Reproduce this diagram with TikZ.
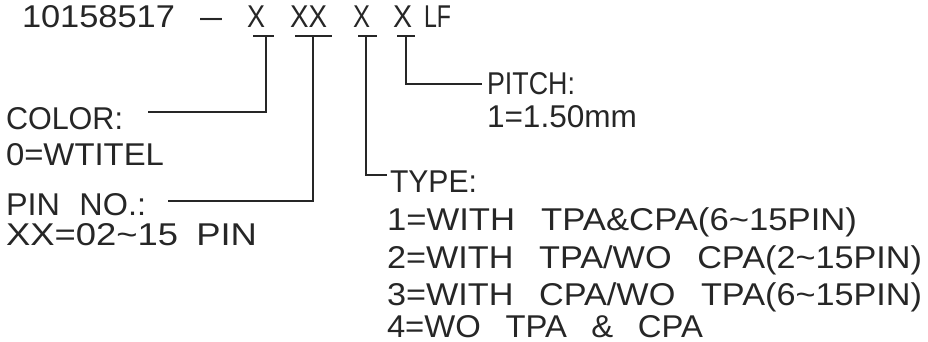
\documentclass[tikz,border=0pt]{standalone}
\usepackage{fontspec}
\setmainfont{Liberation Sans}
\usepackage{graphicx}
\newcommand{\fitw}[2]{\resizebox{#1pt}{\height}{#2}}
\newcommand{\gp}{\hspace{0.75em}}
\begin{document}
\begin{tikzpicture}[x=1pt,y=-1pt,
  txt/.style={anchor=base west, inner sep=0pt, outer sep=0pt, text=black!85, font=\fontsize{31.5}{31.5}\selectfont},
  lead/.style={line width=2.2pt, draw=black!85}]
\useasboundingbox (0,0) rectangle (928,342);
% part number
\node[txt] (num)  at (22,28)  {\fitw{153}{10158517}};
\node[txt] (dash) at (200,28) {\fitw{22}{–}};
\node[txt] (x1)   at (247,28) {\fitw{18}{X}};
\node[txt] (x2)   at (290,28) {\fitw{37}{XX}};
\node[txt] (x3)   at (353,28) {\fitw{17}{X}};
\node[txt] (x4)   at (393,28) {\fitw{19}{X}};
\node[txt] (lf)   at (424,28) {\fitw{27}{LF}};
% left labels
\node[txt] (color)  at (6,130) {\fitw{117}{COLOR:}};
\node[txt] (colorv) at (6,165) {\fitw{158}{0=WTITEL}};
\node[txt] (pin)    at (6,215) {\fitw{140}{PIN\hspace{0.6em}NO.:}};
\node[txt] (pinv)   at (6,245) {\fitw{251}{XX=02\textasciitilde 15\hspace{0.5em}PIN}};
% right labels
\node[txt] (pitch)  at (487,95)  {\fitw{88}{PITCH:}};
\node[txt] (pitchv) at (487,128) {\fitw{150}{1=1.50mm}};
\node[txt] (type)   at (390,192) {\fitw{87}{TYPE:}};
\node[txt] (t1) at (387,230) {\fitw{470}{1=WITH\gp TPA\&CPA(6\textasciitilde 15PIN)}};
\node[txt] (t2) at (387,268) {\fitw{535}{2=WITH\gp TPA/WO\gp CPA(2\textasciitilde 15PIN)}};
\node[txt] (t3) at (387,305) {\fitw{535}{3=WITH\gp CPA/WO\gp TPA(6\textasciitilde 15PIN)}};
\node[txt] (t4) at (387,337) {\fitw{316}{4=WO\gp TPA\gp\&\gp CPA}};
% connector points
\coordinate (u1a) at (253,36); \coordinate (u1b) at (274,36); \coordinate (j1) at (266,36); \coordinate (e1) at (148,112);
\coordinate (u2a) at (295,36); \coordinate (u2b) at (332,36); \coordinate (j2) at (313,36); \coordinate (e2) at (168,201);
\coordinate (u3a) at (358,36); \coordinate (u3b) at (377,36); \coordinate (j3) at (366,36); \coordinate (e3) at (387,175);
\coordinate (u4a) at (397,36); \coordinate (u4b) at (415,36); \coordinate (j4) at (406,36); \coordinate (e4) at (482,84);
% connectors
\draw[lead] (u1a) -- (u1b); \draw[lead] (j1) |- (e1);
\draw[lead] (u2a) -- (u2b); \draw[lead] (j2) |- (e2);
\draw[lead] (u3a) -- (u3b); \draw[lead] (j3) |- (e3);
\draw[lead] (u4a) -- (u4b); \draw[lead] (j4) |- (e4);
\end{tikzpicture}
\end{document}
